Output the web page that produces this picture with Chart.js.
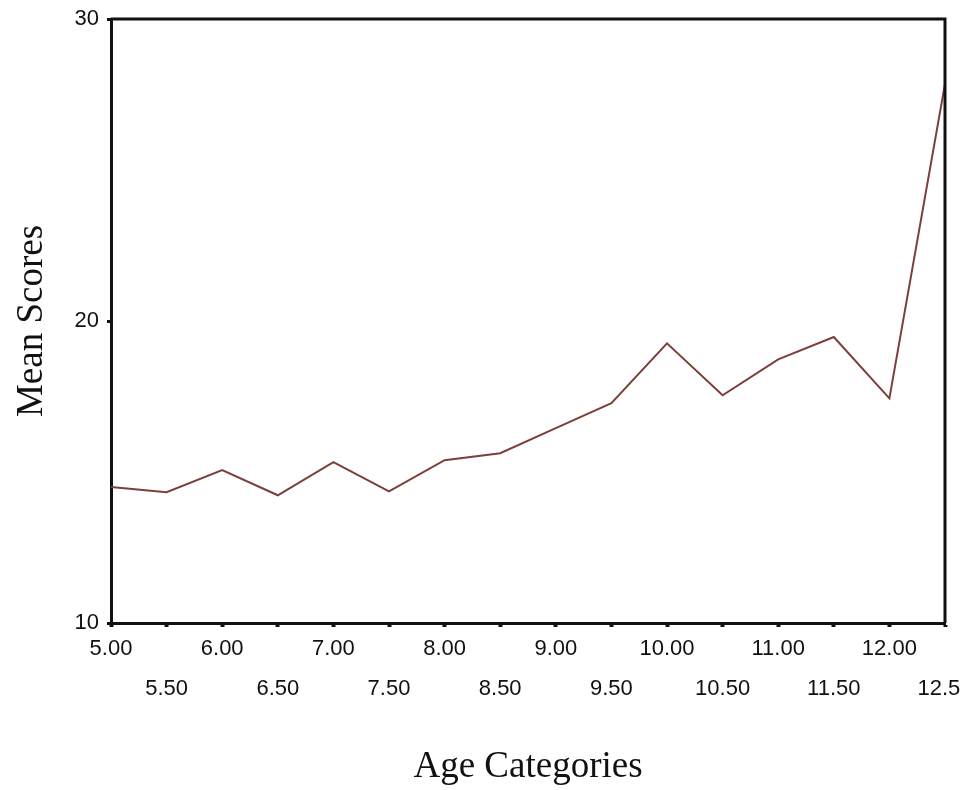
<!DOCTYPE html>
<html>
<head>
<meta charset="utf-8">
<script src="https://cdn.jsdelivr.net/npm/chart.js@4/dist/chart.umd.min.js"></script>
<style>
  html, body { margin: 0; padding: 0; background: #fff; }
  #wrap { width: 960px; height: 790px; }
</style>
</head>
<body>
<div id="wrap"><canvas id="chart" width="960" height="790"></canvas></div>
<script>
// age categories on the x axis
const ageLabels = ['5.00', '5.50', '6.00', '6.50', '7.00', '7.50', '8.00', '8.50',
                   '9.00', '9.50', '10.00', '10.50', '11.00', '11.50', '12.00', '12.50'];
// mean scores
const meanScores = [14.50, 14.33, 15.06, 14.23, 15.33, 14.36, 15.39, 15.62,
                    16.45, 17.28, 19.26, 17.54, 18.73, 19.47, 17.44, 27.85];
const yTicks = [10, 20, 30];

// draws top and right edges so the plot is a closed box
const frameBox = {
    id: 'frameBox',
    afterDraw(chart) {
        const { ctx, chartArea: a } = chart;
        ctx.save();
        ctx.strokeStyle = '#111';
        ctx.lineWidth = 3;
        ctx.beginPath();
        ctx.moveTo(a.left, a.top);
        ctx.lineTo(a.right, a.top);
        ctx.lineTo(a.right, a.bottom);
        ctx.stroke();
        ctx.restore();
    }
};

const ctx = document.getElementById('chart').getContext('2d');
new Chart(ctx, {
    type: 'line',
    data: {
        labels: ageLabels,
        datasets: [{
            data: meanScores,
            borderColor: '#7c3f3a',
            borderWidth: 2,
            pointRadius: 0,
            tension: 0,
            fill: false
        }]
    },
    options: {
        responsive: false,
        animation: false,
        layout: { padding: { top: 19, right: 15, left: 0, bottom: 0 } },
        plugins: { legend: { display: false }, tooltip: { enabled: false } },
        scales: {
            x: {
                offset: false,
                border: { color: '#111', width: 3 },
                grid: { drawOnChartArea: false, drawTicks: true, tickLength: 4, tickWidth: 4, tickColor: '#111' },
                ticks: {
                    autoSkip: false,
                    maxRotation: 0,
                    padding: 2,
                    color: '#111',
                    font: { family: 'Liberation Sans', size: 22, lineHeight: 1.82 },
                    callback: (v, i) => i % 2 === 0 ? [ageLabels[i]] : ['', ageLabels[i]]
                },
                title: {
                    display: true,
                    text: 'Age Categories',
                    color: '#111',
                    font: { family: 'Liberation Serif', size: 37 },
                    padding: { top: 0, bottom: 1 }
                },
                afterFit: s => { s.height = 167; s.paddingLeft = 0; s.paddingRight = 0; }
            },
            y: {
                min: 10,
                max: 30,
                afterBuildTicks: s => { s.ticks = yTicks.map(v => ({ value: v })); },
                border: { color: '#111', width: 3 },
                grid: { drawOnChartArea: false, drawTicks: true, tickLength: 4, tickWidth: 3, tickColor: '#111' },
                ticks: {
                    padding: 8,
                    color: '#111',
                    font: { family: 'Liberation Sans', size: 22 }
                },
                title: {
                    display: true,
                    text: 'Mean Scores',
                    color: '#111',
                    font: { family: 'Liberation Serif', size: 37 },
                    padding: { top: 10, bottom: 0 }
                },
                afterFit: s => { s.width = 111; s.paddingTop = 0; s.paddingBottom = 0; }
            }
        }
    },
    plugins: [frameBox]
});
</script>
</body>
</html>
